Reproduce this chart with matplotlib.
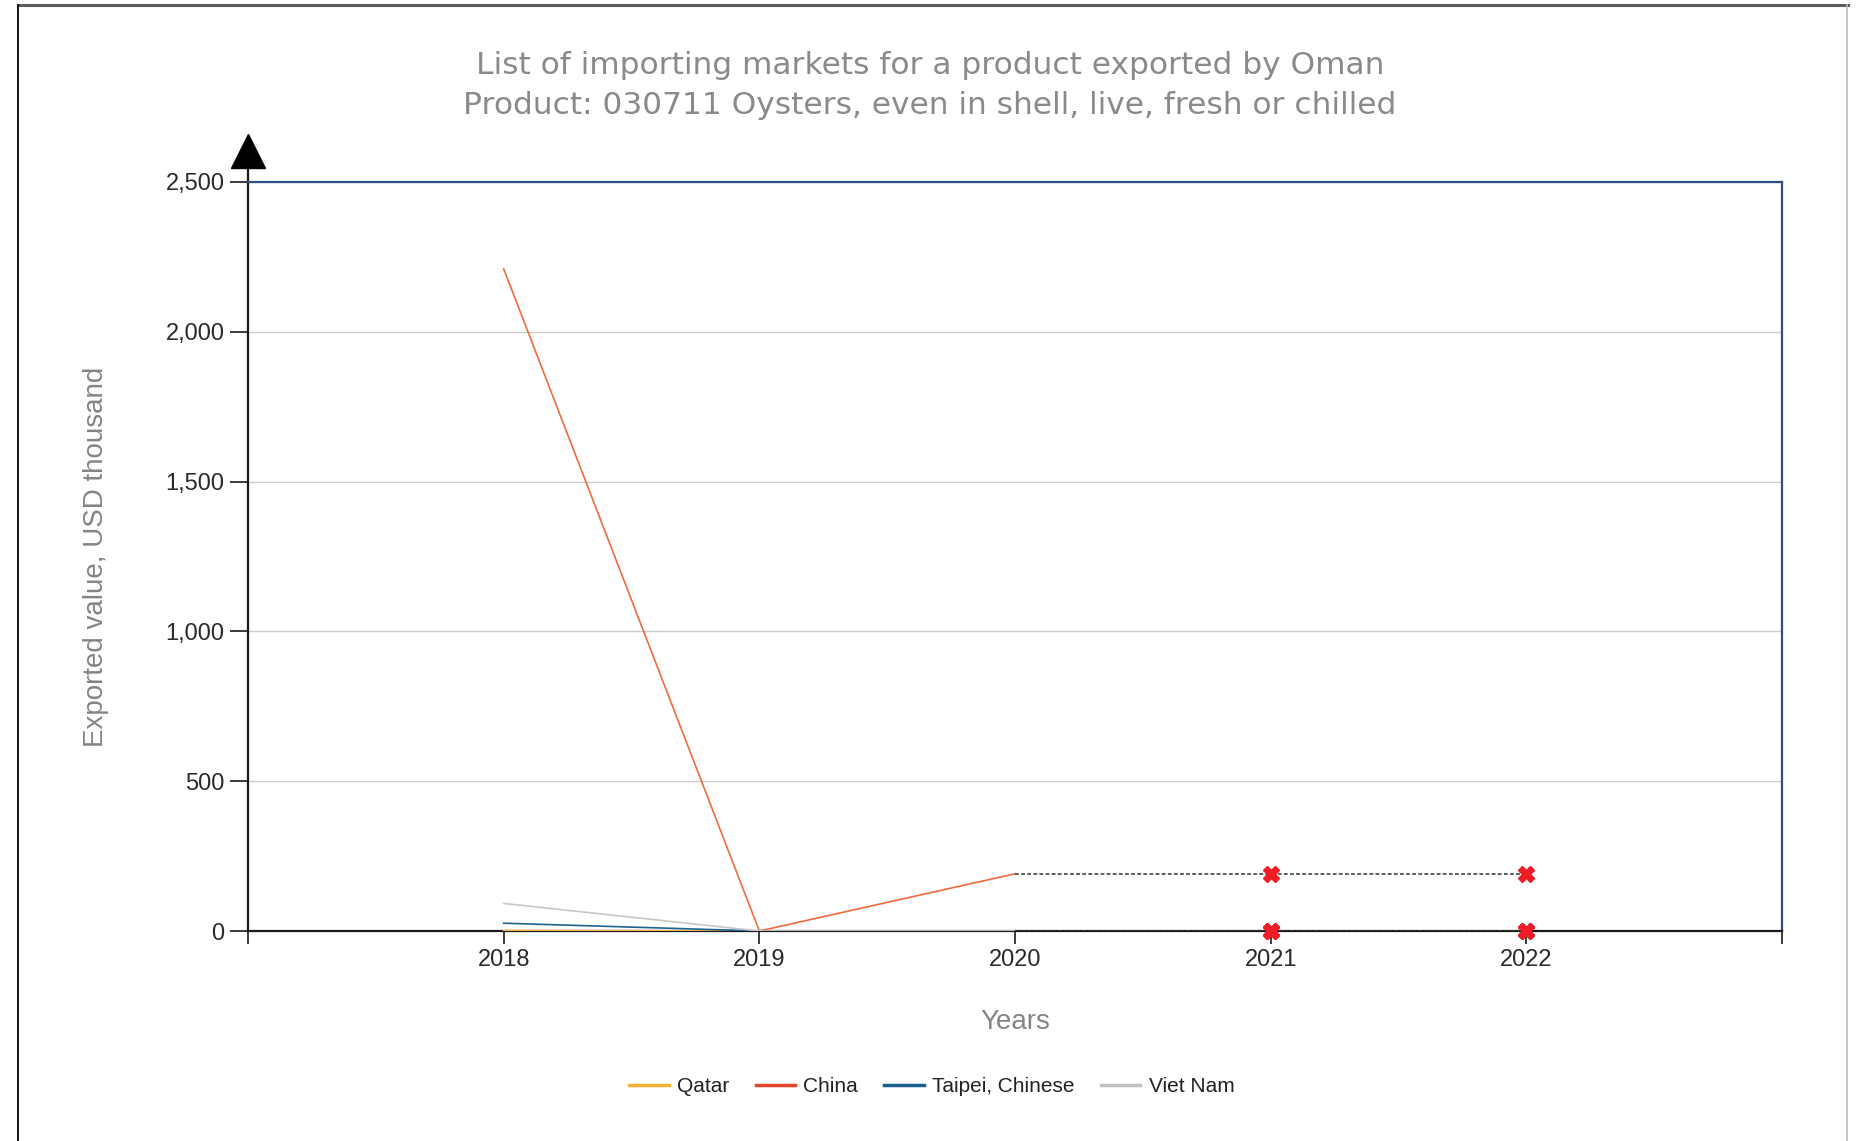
import matplotlib.pyplot as plt
from matplotlib.lines import Line2D
from matplotlib.ticker import FuncFormatter
import numpy as np

years = [2018, 2019, 2020, 2021, 2022]
series_names = ["Qatar", "China", "Taipei, Chinese", "Viet Nam"]
qatar = [2, 0, 0, None, None]
china = [2210, 0, 191, None, None]
taipei = [26, 0, 0, None, None]
viet_nam = [92, 0, 0, None, None]

line_colors = ["#f5b54a", "#ef6a3c", "#1f6391", "#c8c8c8"]
legend_colors = ["#f9b233", "#e4432a", "#1b5f8f", "#c0c0c0"]

title_lines = [
    "List of importing markets for a product exported by Oman",
    "Product: 030711 Oysters, even in shell, live, fresh or chilled",
]

W, H = 1860, 1141
fig = plt.figure(figsize=(W / 100, H / 100), dpi=100)
ax = fig.add_axes([248 / W, 1 - 931 / H, (1782 - 248) / W, (931 - 182) / H])

label_font = "Liberation Sans"
gray_text = "#848484"

# solid lines for known years, dotted carry-forward for the missing ones
for name, values, color in zip(series_names, [qatar, china, taipei, viet_nam], line_colors):
    known = [(y, v) for y, v in zip(years, values) if v is not None]
    missing = [y for y, v in zip(years, values) if v is None]
    kx, ky = zip(*known)
    ax.plot(kx, ky, color=color, lw=1.2, zorder=3)
    if missing:
        last = ky[-1]
        ax.plot([kx[-1]] + missing, [last] * (len(missing) + 1),
                color="#333333", lw=1.1, ls=(0, (2.5, 1.5)), zorder=4)
        ax.plot(missing, [last] * len(missing), ls="none", marker="X",
                ms=11, color="#ee1c25", mec="#ee1c25", zorder=5, clip_on=False)

ax.set_xlim(2017, 2023)
ax.set_ylim(0, 2500)
ax.set_xticks(range(2017, 2024))
ax.set_xticklabels([""] + [str(y) for y in years] + [""])
ax.set_yticks(np.arange(0, 2501, 500))
ax.yaxis.set_major_formatter(FuncFormatter(lambda v, p: f"{int(v):,}"))

ax.grid(axis="y", color="#cccccc", lw=1.0)
ax.set_axisbelow(True)

for side in ["left", "bottom"]:
    ax.spines[side].set_color("#1a1a1a")
    ax.spines[side].set_linewidth(1.6)
for side in ["top", "right"]:
    ax.spines[side].set_color("#2c4f86")
    ax.spines[side].set_linewidth(1.6)

ax.tick_params(axis="y", length=13, width=1.2, color="#1a1a1a", pad=4,
               labelsize=17, labelcolor="#2a2a2a")
ax.tick_params(axis="x", length=9, width=1.2, color="#1a1a1a", pad=4,
               labelsize=17, labelcolor="#2a2a2a")
for lbl in ax.get_xticklabels() + ax.get_yticklabels():
    lbl.set_fontfamily(label_font)

# arrow on top of the y axis
ax.plot([0, 0], [1.0, 1.02], color="#1a1a1a", lw=1.6, transform=ax.transAxes,
        clip_on=False)
ax.plot([0], [1.0414], marker="^", ms=24, color="black", transform=ax.transAxes,
        clip_on=False)

ax.set_ylabel("Exported value, USD thousand", fontsize=20, color=gray_text,
              fontfamily=label_font)
ax.yaxis.set_label_coords(-(248 - 109) / (1782 - 248), 0.5)
ax.set_xlabel("Years", fontsize=20, color=gray_text, fontfamily=label_font)
ax.xaxis.set_label_coords(0.5, -(1009 - 931) / (931 - 182))

fig.text(0.5, 1 - 65 / H, title_lines[0], ha="center", va="center",
         fontsize=22.5, color="#8a8a8a", fontfamily="DejaVu Sans")
fig.text(0.5, 1 - 105 / H, title_lines[1], ha="center", va="center",
         fontsize=22.5, color="#8a8a8a", fontfamily="DejaVu Sans")

handles = [Line2D([0], [0], color=c, lw=2.5) for c in legend_colors]
leg = fig.legend(handles, series_names, loc="center", ncol=4,
                 bbox_to_anchor=(0.501, 1 - 1087 / H), frameon=False,
                 prop={"family": label_font, "size": 15}, handlelength=1.9,
                 handletextpad=0.4, columnspacing=1.25)
for t in leg.get_texts():
    t.set_color("#222222")

# outer frame of the picture
fig.add_artist(Line2D([18 / W, 1848 / W], [1 - 5 / H, 1 - 5 / H],
                      color="#5a5a5a", lw=2.2, transform=fig.transFigure))
fig.add_artist(Line2D([18 / W, 18 / W], [0, 1 - 5 / H],
                      color="#1a1a1a", lw=1.5, transform=fig.transFigure))
fig.add_artist(Line2D([1847 / W, 1847 / W], [0, 1 - 5 / H],
                      color="#bbbbbb", lw=1.2, transform=fig.transFigure))

fig.savefig("out.png", dpi=100, facecolor="white")
